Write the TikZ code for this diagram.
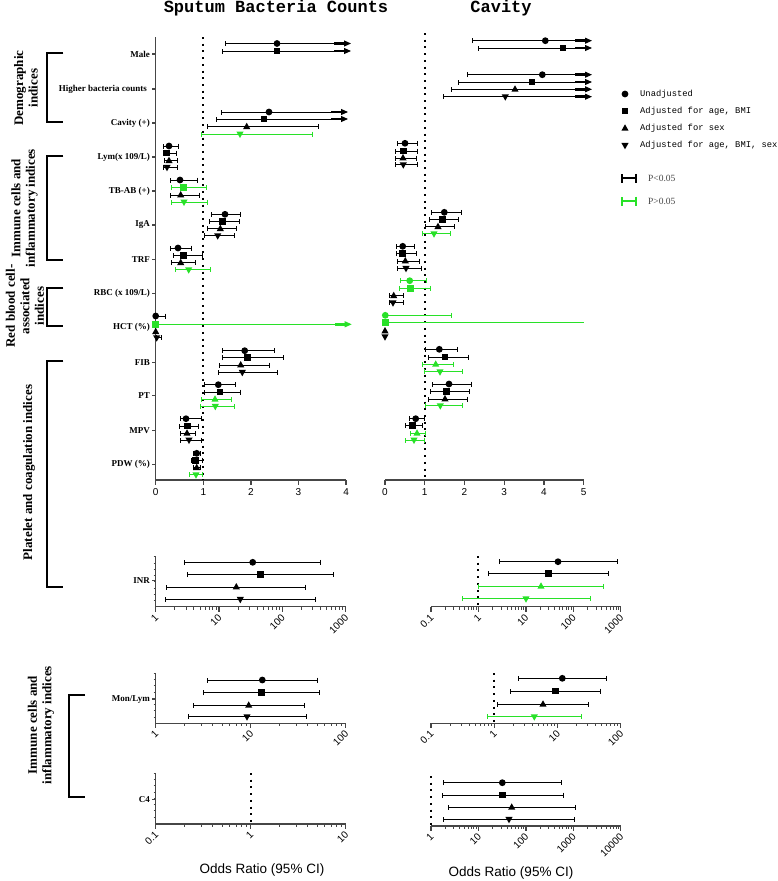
\documentclass[tikz,border=0pt]{standalone}
\usepackage{fontspec}
\setmainfont{Liberation Serif}
\setsansfont{Liberation Sans}
\setmonofont{Liberation Mono}
\usetikzlibrary{arrows.meta}
\definecolor{nsgreen}{RGB}{40,225,40}
\definecolor{axisgray}{RGB}{70,70,70}
\tikzset{%
  % Specifications for the estimate bars:
          ci/.style = {line width=1pt, {Bar[width=5pt]}-{Bar[width=5pt]}},
       ciarr/.style = {line width=1pt, {Bar[width=5pt]}-{Rectangle[length=10pt,width=2.6pt]Triangle[length=7pt,width=6pt]}},
      ciopen/.style = {line width=1pt, {Bar[width=5pt]}-},
          ok/.style = {color=black},
          ns/.style = {color=nsgreen},
  % Markers:
           dot/.pic = {\fill (0,0) circle (3.4);},
           sqr/.pic = {\fill (-3.4,-3.4) rectangle (3.4,3.4);},
           tup/.pic = {\fill (0,-4) -- (3.6,2.4) -- (-3.6,2.4) -- cycle;},
           tdn/.pic = {\fill (0,4) -- (3.6,-2.4) -- (-3.6,-2.4) -- cycle;},
  % Axes and texts:
        axis/.style = {line width=1.4pt, axisgray},
       minor/.style = {line width=0.8pt, axisgray},
       nullz/.style = {line width=2pt, dash pattern=on 2pt off 4.7pt},
     bracket/.style = {line width=2pt},
      rowlab/.style = {anchor=east, inner sep=1pt, font=\bfseries\fontsize{9}{10}\selectfont},
      grplab/.style = {rotate=90, align=center, font=\bfseries\fontsize{13}{14.5}\selectfont},
     ticklab/.style = {inner sep=0pt, font=\sffamily\fontsize{10}{12}\selectfont},
      logtick/.style = {rotate=45, anchor=east, inner sep=0pt, font=\sffamily\fontsize{10}{12}\selectfont},
       title/.style = {font=\ttfamily\bfseries\fontsize{17}{18}\selectfont},
     legtext/.style = {anchor=west, inner sep=0pt, font=\ttfamily\fontsize{8.8}{10}\selectfont},
       ptext/.style = {anchor=west, inner sep=0pt, text=axisgray, font=\fontsize{9.5}{11}\selectfont},
      xtitle/.style = {font=\sffamily\fontsize{13.5}{15}\selectfont},
}
% one estimate: [bar style]{colour}{y}{lower}{upper}{point}{marker}
\newcommand{\est}[7][ci]{%
  \draw[#1,#2] (#4,#3) -- (#5,#3);
  \pic[#2] at (#6,#3) {#7};}
% linear axis: {name}{x0}{y}{unit}{n}
\newcommand{\linaxis}[5]{%
  \draw[axis] (#2,#3) -- ({#2+#4*#5},#3);
  \foreach \k in {0,...,#5} {
    \draw[axis] ({#2+#4*\k},#3) -- ++(0,5);
    \node[ticklab] (#1-\k) at ({#2+#4*\k},{#3+12}) {\k};
  }}
% log axis: {name}{x0}{y}{decade}{decades}{labels}
\newcommand{\logaxis}[6]{%
  \draw[axis] (#2,#3) -- ({#2+#4*#5},#3);
  \foreach \t [count=\k from 0] in {#6} {
    \draw[axis] ({#2+#4*\k},#3) -- ++(0,5);
    \node[logtick] (#1-\k) at ({#2+#4*\k+1},{#3+9}) {\t};
  }
  \foreach \k in {1,...,#5} \foreach \m in {2,...,9}
    \draw[minor] ({#2+#4*(\k-1+log10(\m))},#3) -- ++(0,3);}

\begin{document}
\begin{tikzpicture}[x=1pt, y=-1pt]
  \useasboundingbox (0,0) rectangle (778,881);

  \node[title] (ttl) at (276,8) {Sputum Bacteria Counts};
  \node[title] (ttr) at (501,8) {Cavity};

  % group brackets
  \draw[bracket] (63.3,53.3) -- (47.3,53.3) -- (47.3,122.3) -- (63.3,122.3);
  \draw[bracket] (63.3,155.7) -- (47.3,155.7) -- (47.3,260) -- (63.3,260);
  \draw[bracket] (63.3,288.3) -- (47.3,288.3) -- (47.3,326) -- (63.3,326);
  \draw[bracket] (63.3,360.7) -- (47.3,360.7) -- (47.3,586.7) -- (63.3,586.7);
  \draw[bracket] (85,695) -- (69,695) -- (69,796.7) -- (85,796.7);
  \node[grplab] (gdem) at (26,88) {Demographic\\indices};
  \node[grplab] (gimm) at (24.5,208) {Immune cells and\\inflammatory indices};
  \node[grplab] (grbc) at (25,306) {Red blood cell-\\associated\\indices};
  \node[grplab] (gplt) at (29,472.5) {Platelet and coagulation indices};
  \node[grplab] (gimb) at (41,725) {Immune cells and\\inflammatory indices};

  % row labels
  \node[rowlab] (male) at (151,54) {Male};
  \node[rowlab] (hbc)  at (148,89) {Higher bacteria counts};
  \node[rowlab] (cav)  at (151,123) {Cavity (+)};
  \node[rowlab] (lym)  at (151,157) {Lym(x 109/L)};
  \node[rowlab] (tbab) at (151,191) {TB-AB (+)};
  \node[rowlab] (iga)  at (151,225) {IgA};
  \node[rowlab] (trf)  at (151,259.3) {TRF};
  \node[rowlab] (rbc)  at (151,293.7) {RBC (x 109/L)};
  \node[rowlab] (hct)  at (151,327.7) {HCT (\%)};
  \node[rowlab] (fib)  at (151,362.3) {FIB};
  \node[rowlab] (pt)   at (151,395.7) {PT};
  \node[rowlab] (mpv)  at (151,430.3) {MPV};
  \node[rowlab] (pdw)  at (151,464.7) {PDW (\%)};
  \node[rowlab] (inr)  at (151,580.7) {INR};
  \node[rowlab] (monl) at (151,699) {Mon/Lym};
  \node[rowlab] (c4)   at (151,799.3) {C4};

  % top panels
  \draw[axis] (155.7,37) -- (155.7,480);
  \foreach \y in {54,89,123,157,191,225,259.3,293.7,327.7,362.3,395.7,430.3,464.7}
    \draw[axis] (152,\y) -- (155.7,\y);
  \linaxis{lt}{155.7}{480}{47.6}{4}
  \linaxis{rt}{385}{480}{39.75}{5}
  \draw[nullz] (203,37) -- (203,480);
  \draw[nullz] (425,33) -- (425,480);

  % bottom panels
  \foreach \a/\b/\m in {556.7/606.7/580.7, 673.3/723.3/699, 773.3/824/799.3} {
    \draw[axis] (155.7,\a) -- (155.7,\b);
    \draw[axis] (152,\m) -- (155.7,\m);
    \foreach \i in {0,...,7} \draw[minor] (153.7,{\a+6.25*\i}) -- (155.7,{\a+6.25*\i});
  }
  \logaxis{inl}{155.7}{606.7}{63.33}{3}{1,10,100,1000}
  \logaxis{inr}{431}{606.7}{47.43}{4}{0.1,1,10,100,1000}
  \logaxis{mol}{155.7}{723.3}{95}{2}{1,10,100}
  \logaxis{mor}{431}{723.3}{63.23}{3}{0.1,1,10,100}
  \logaxis{c4l}{155.7}{824}{95}{2}{0.1,1,10}
  \logaxis{c4r}{431}{826}{47.43}{4}{1,10,100,1000,10000}
  \draw[nullz] (478.4,556) -- (478.4,606);
  \draw[nullz] (494.2,673) -- (494.2,723);
  \draw[nullz] (250.7,773) -- (250.7,824);
  \draw[nullz] (431,776) -- (431,826);
  \node[xtitle] (xl) at (262,870) {Odds Ratio (95\% CI)};
  \node[xtitle] (xr) at (511,873) {Odds Ratio (95\% CI)};

  % legend
  \pic[ok] at (625,94) {dot};    \node[legtext] (l1) at (640,94) {Unadjusted};
  \pic[ok] at (625,111) {sqr};   \node[legtext] (l2) at (640,111) {Adjusted for age, BMI};
  \pic[ok] at (625,128.3) {tup}; \node[legtext] (l3) at (640,128.3) {Adjusted for sex};
  \pic[ok] at (625,145.3) {tdn}; \node[legtext] (l4) at (640,145.3) {Adjusted for age, BMI, sex};
  \draw[line width=2pt, {Bar[width=9pt]}-{Bar[width=9pt]}] (620.7,178.3) -- (637.3,178.3);
  \node[ptext] (p1) at (648,178.3) {P<0.05};
  \draw[line width=2pt, nsgreen, {Bar[width=9pt]}-{Bar[width=9pt]}] (620.7,201) -- (637.3,201);
  \node[ptext] (p2) at (648,201) {P>0.05};

  % sputum bacteria counts
  \est[ciarr]{ok}{43.5}{225}{351}{277}{dot}  \est[ciarr]{ok}{51}{222}{351}{277}{sqr}
  \est[ciarr]{ok}{112}{221}{348}{269}{dot}  \est[ciarr]{ok}{119}{216.3}{348}{264}{sqr}
  \est{ok}{126.7}{207}{319}{246.7}{tup}     \est{ns}{134}{201}{313.3}{240}{tdn}
  \est{ok}{146}{163}{179}{169}{dot}         \est{ok}{153}{162.7}{177}{166.7}{sqr}
  \est{ok}{160.7}{163.7}{178.3}{169}{tup}   \est{ok}{167.3}{162.7}{178}{167}{tdn}
  \est{ok}{180}{170}{197.7}{180}{dot}       \est{ns}{187.3}{171}{206.7}{183.3}{sqr}
  \est{ok}{195}{170}{199.7}{180.7}{tup}     \est{ns}{202}{171}{208.3}{184}{tdn}
  \est{ok}{214.3}{211}{241.3}{225}{dot}     \est{ok}{221.3}{208.7}{239.7}{222.7}{sqr}
  \est{ok}{228.7}{207.3}{237.3}{220.3}{tup} \est{ok}{235.7}{204}{235.3}{217.7}{tdn}
  \est{ok}{248}{170}{191.7}{178}{dot}       \est{ok}{255.3}{172.7}{203}{183.7}{sqr}
  \est{ok}{262.7}{171}{196.3}{180.7}{tup}   \est{ns}{269.7}{174.7}{211.3}{188.7}{tdn}
  \est{ok}{316}{155.7}{165.7}{155.7}{dot}   \est[ciarr]{ns}{324.3}{155.7}{351.7}{155.7}{sqr}
  \pic[ok] at (155.7,331.7) {tup};          \est{ok}{337.7}{155.7}{162}{156.7}{tdn}
  \est{ok}{350.7}{222.3}{275}{244.7}{dot}   \est{ok}{357.7}{221.7}{284}{247.3}{sqr}
  \est{ok}{365}{219.3}{270}{240.7}{tup}     \est{ok}{372.3}{217.7}{277.7}{242.3}{tdn}
  \est{ok}{384.7}{204}{236.3}{218.3}{dot}   \est{ok}{392}{204.3}{240.7}{220}{sqr}
  \est{ns}{399.3}{201}{232.3}{215}{tup}     \est{ns}{406.3}{200.3}{235.3}{215.3}{tdn}
  \est{ok}{418.7}{180}{202.3}{186}{dot}     \est{ok}{426}{178.7}{199.3}{187.3}{sqr}
  \est{ok}{433.3}{180}{196}{187}{tup}       \est{ok}{440}{180}{202}{189}{tdn}
  \est{ok}{453.3}{193.3}{201.3}{196.7}{dot} \est{ok}{460.3}{190.7}{203.3}{195.3}{sqr}
  \est{ok}{467.7}{193.3}{201.3}{196.7}{tup} \est{ns}{474.7}{189.3}{203.3}{196}{tdn}
  \est{ok}{562.3}{184.3}{321}{252.7}{dot}   \est{ok}{574.7}{187.3}{333.7}{260.3}{sqr}
  \est{ok}{587}{166}{306.3}{236.3}{tup}     \est{ok}{599.3}{164.7}{316}{240.3}{tdn}
  \est{ok}{680}{207.3}{317.7}{262.3}{dot}   \est{ok}{692.7}{203.3}{320}{261.3}{sqr}
  \est{ok}{705.3}{192.7}{305.3}{248.7}{tup} \est{ok}{716.7}{187.7}{306.7}{247}{tdn}

  % cavity
  \est[ciarr]{ok}{40.7}{472.3}{592}{545.3}{dot} \est[ciarr]{ok}{48}{477.7}{592}{563}{sqr}
  \est[ciarr]{ok}{74.7}{466.7}{592}{542.3}{dot} \est[ciarr]{ok}{82}{458}{592}{532}{sqr}
  \est[ciarr]{ok}{89.3}{450.7}{592}{515}{tup}   \est[ciarr]{ok}{96.7}{442.7}{592}{505.3}{tdn}
  \est{ok}{143.3}{396.7}{417.7}{405}{dot}   \est{ok}{151}{395.3}{418}{403.3}{sqr}
  \est{ok}{158}{395.3}{416.7}{403}{tup}     \est{ok}{164.7}{395}{418.3}{403.3}{tdn}
  \est{ok}{212.3}{430.7}{462}{444.3}{dot}   \est{ok}{219.3}{428.7}{459.3}{442.3}{sqr}
  \est{ok}{226.7}{425}{454.7}{438}{tup}     \est{ns}{233.7}{421.7}{450.7}{434}{tdn}
  \est{ok}{246.3}{395.7}{414.7}{402.7}{dot} \est{ok}{253.7}{395.7}{416.7}{402.7}{sqr}
  \est{ok}{261}{396.7}{420.3}{405.3}{tup}   \est{ok}{268.3}{397}{422.3}{406}{tdn}
  \est{ns}{280.7}{399.7}{427}{409.7}{dot}   \est{ns}{288.3}{398.7}{431}{410.3}{sqr}
  \est{ok}{295.7}{389.3}{404}{393.7}{tup}   \est{ok}{302.7}{388.7}{404}{393}{tdn}
  \est{ns}{315.3}{385.3}{451.7}{385.3}{dot} \est[ciopen]{ns}{322.7}{385.3}{583.7}{385.3}{sqr}
  \pic[ok] at (385,331) {tup};              \pic[ok] at (385,336.7) {tdn};
  \est{ok}{349.3}{425}{458.3}{439.3}{dot}   \est{ok}{357}{428}{469.3}{445}{sqr}
  \est{ns}{364.3}{422}{454.3}{435.7}{tup}   \est{ns}{371.7}{423.7}{463}{440}{tdn}
  \est{ok}{384}{432}{472}{449}{dot}         \est{ok}{391.7}{429.7}{470}{446.3}{sqr}
  \est{ok}{399}{428.3}{468.3}{445}{tup}     \est{ns}{405.7}{424.7}{463.3}{440.3}{tdn}
  \est{ok}{418.7}{408.7}{425}{415.7}{dot}   \est{ok}{425.7}{404.7}{423.3}{412.3}{sqr}
  \est{ns}{433.3}{409.7}{426.3}{417}{tup}   \est{ns}{440}{405.3}{425}{414}{tdn}
  \est{ok}{561.7}{498.7}{617.7}{558}{dot}   \est{ok}{573.7}{487.7}{609.3}{548.3}{sqr}
  \est{ns}{586.3}{478}{604.3}{541}{tup}     \est{ns}{598.7}{462.3}{590.7}{526}{tdn}
  \est{ok}{678.3}{518}{607}{562.3}{dot}     \est{ok}{691}{510.3}{601}{555.7}{sqr}
  \est{ok}{704.3}{497.3}{589.3}{543}{tup}   \est{ns}{716.7}{487}{582}{534.3}{tdn}
  \est{ok}{782.7}{442.7}{561.7}{502.3}{dot} \est{ok}{795}{441.7}{563.7}{502.3}{sqr}
  \est{ok}{807.3}{448}{575.7}{511.7}{tup}   \est{ok}{819.3}{443.3}{575}{509}{tdn}
\end{tikzpicture}
\end{document}
